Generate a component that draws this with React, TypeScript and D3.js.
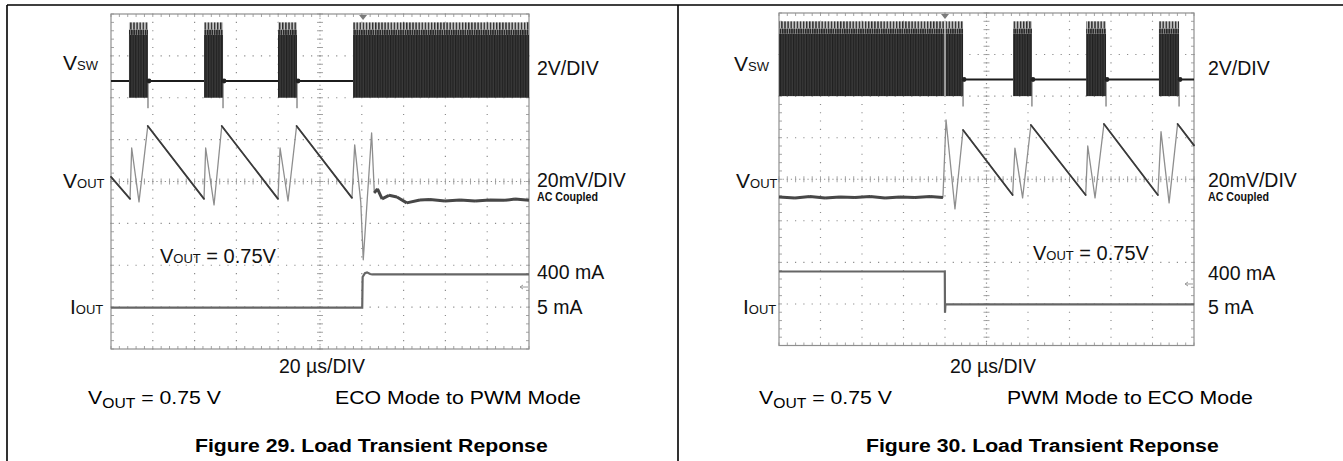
import React from 'react';
import * as d3 from 'd3';

// ---------- DATA (time in µs, 20 µs/DIV; VSW in V; VOUT in mV AC; IOUT in mA) ----------
const TIME_RANGE = [0, 200];

// Figure 29 – ECO Mode to PWM Mode
const vswBurstsEcoToPwm: [number, number][] = [[8.6, 17.7], [44.5, 53.6], [79.9, 89.0], [115.8, 200]];
const voutTimeEcoToPwm = [0, 9.1, 9.9, 13.4, 17.6, 44.5, 45.3, 49.3, 53.0, 79.9, 80.9, 84.7, 88.8, 115.3, 116.6, 119.5, 120.7, 124.7, 126.0, 127.5, 129.7, 133.0, 136.8, 141.5, 147.8, 152.6, 159.8, 167.0, 174.2, 181.3, 188.5, 193.3, 200];
const voutMvEcoToPwm = [2.2, -8.3, 16.0, -9.7, 26.5, -8.3, 16.0, -11.2, 26.5, -8.3, 16.0, -9.3, 26.5, -7.8, 17.5, -9.7, -37.4, 23.2, -5.4, -3.5, -8.3, -6.6, -7.4, -10.2, -8.8, -8.6, -9.3, -8.8, -9.3, -8.8, -9.0, -8.4, -9.0];
const ioutTimeEcoToPwm = [0, 120.2, 120.4, 121.5, 122.5, 124.0, 125.0, 200];
const ioutMaEcoToPwm = [5, 5, 370, 415, 425, 405, 400, 400];
const triggerEcoToPwm = 120.6;
const settledEcoToPwm: [number, number] = [126, 200];

// Figure 30 – PWM Mode to ECO Mode
const vswBurstsPwmToEco: [number, number][] = [[0, 88.7], [112.8, 121.9], [148.0, 157.6], [183.1, 192.8]];
const voutTimePwmToEco = [0, 7.7, 14.9, 22.2, 29.4, 36.6, 43.9, 51.1, 58.3, 65.5, 72.8, 79.0, 80.5, 84.8, 88.7, 112.6, 113.7, 117.4, 121.4, 147.8, 148.8, 152.3, 156.6, 182.6, 184.1, 188.0, 192.1, 200];
const voutMvPwmToEco = [-8.5, -9.0, -8.3, -9.0, -8.5, -8.8, -8.3, -9.0, -8.5, -8.8, -8.3, -8.8, 28.5, -14.3, 23.7, -7.6, 15.0, -9.0, 26.1, -7.6, 16.0, -9.0, 26.6, -7.6, 22.9, -11.4, 26.6, 16.3];
const ioutTimePwmToEco = [0, 79.9, 80.0, 80.2, 200];
const ioutMaPwmToEco = [400, 400, -95, 5, 5];
const triggerPwmToEco = 80;
const settledPwmToEco: [number, number] = [0, 79.2];

// VSW levels (V)
const VSW_IDLE = 0.8;
const VSW_HIGH = 3.6;
const VSW_JAG = 3.0;
const VSW_SPIKE = -0.5;
// channel offsets (divisions from bottom) and scales per division
const VSW_GND_DIV = 6.0, VSW_PER_DIV = 2;
const VOUT_CTR_DIV = 4.0, VOUT_PER_DIV = 20;
const IOUT_GND_DIV = 0.98, IOUT_PER_DIV = 500;
const REF_MARK_DIV = 1.48;

// Text
const scaleLabels = { vsw: '2V/DIV', vout: '20mV/DIV', ac: 'AC Coupled', hi: '400 mA', lo: '5 mA', time: '20 µs/DIV' };
const captions = [
  { mode: 'ECO Mode to PWM Mode', title: 'Figure 29. Load Transient Reponse' },
  { mode: 'PWM Mode to ECO Mode', title: 'Figure 30. Load Transient Reponse' },
];

const FONT = "'Liberation Sans', Arial, Helvetica, sans-serif";

type Frame = { x0: number; x1: number; y0: number; y1: number };

function Panel(props: {
  id: string; f: Frame; bursts: [number, number][]; vt: number[]; vv: number[];
  it: number[]; iv: number[]; trig: number; settled: [number, number]; trigGap: boolean;
  lab: any; cap: { mode: string; title: string };
}) {
  const { id, f, bursts, vt, vv, it, iv, trig, settled, trigGap, lab, cap } = props;
  const x = d3.scaleLinear().domain(TIME_RANGE).range([f.x0, f.x1]);
  const xd = d3.scaleLinear().domain([0, 10]).range([f.x0, f.x1]);
  const yd = d3.scaleLinear().domain([0, 8]).range([f.y1, f.y0]);
  const yVsw = (v: number) => yd(VSW_GND_DIV + v / VSW_PER_DIV);
  const yVout = (v: number) => yd(VOUT_CTR_DIV + v / VOUT_PER_DIV);
  const yIout = (v: number) => yd(IOUT_GND_DIV + v / IOUT_PER_DIV);

  // grid
  const minorX = d3.range(0, 10.0001, 0.2);
  const minorY = d3.range(0, 8.0001, 0.2);
  let dots = '';
  for (let k = 1; k < 10; k++) {
    if (k === 5) continue;
    minorY.forEach((m) => { dots += `M${xd(k) - 0.6},${yd(m)}h1.2`; });
  }
  for (let k = 1; k < 8; k++) {
    if (k === 4) continue;
    minorX.forEach((m) => { dots += `M${xd(m) - 0.6},${yd(k)}h1.2`; });
  }
  let center = '';
  d3.range(0, 8.0001, 0.1).forEach((m) => { center += `M${xd(5) - 0.6},${yd(m)}h1.2`; });
  d3.range(0, 10.0001, 0.1).forEach((m) => { center += `M${xd(m) - 0.6},${yd(4)}h1.2`; });
  let ticks = '';
  minorY.forEach((m) => { ticks += `M${xd(5) - 3},${yd(m)}h6`; ticks += `M${f.x0},${yd(m)}h3M${f.x1},${yd(m)}h-3`; });
  minorX.forEach((m) => { ticks += `M${xd(m)},${yd(4) - 3}v6`; ticks += `M${xd(m)},${f.y0}v3M${xd(m)},${f.y1}v-3`; });

  // VOUT
  const pts = vt.map((t, i) => [x(t), yVout(vv[i])] as [number, number]);
  const line = d3.line();
  let dark = '';
  let thick = '';
  for (let i = 0; i < pts.length - 1; i++) {
    const [a, b] = [pts[i], pts[i + 1]];
    const slope = Math.abs(b[1] - a[1]) / Math.max(0.01, Math.abs(b[0] - a[0]));
    const inSettled = vt[i] >= settled[0] && vt[i + 1] <= settled[1];
    if (inSettled) thick += `M${a[0]},${a[1]}L${b[0]},${b[1]}`;
    else if (slope < 4) dark += `M${a[0]},${a[1]}L${b[0]},${b[1]}`;
  }
  const ipts = it.map((t, i) => [x(t), yIout(iv[i])] as [number, number]);

  const patA = `${id}-a`, patB = `${id}-b`, patC = `${id}-c`;
  return (
    <g>
      <defs>
        <pattern id={patA} width={3.1} height={40} patternUnits="userSpaceOnUse">
          <rect width={3.1} height={40} fill="#c4c4c4" />
          <rect width={1.4} height={40} fill="#2e2e2e" />
        </pattern>
        <pattern id={patB} width={2.3} height={40} patternUnits="userSpaceOnUse">
          <rect width={2.3} height={40} fill="#8a8a8a" />
          <rect width={1.5} height={40} fill="#262626" />
        </pattern>
        <pattern id={patC} width={2.6} height={40} patternUnits="userSpaceOnUse">
          <rect width={2.6} height={40} fill="#3a3a3a" />
          <rect width={1.2} height={40} fill="#202020" />
        </pattern>
      </defs>
      {/* frame & grid */}
      <path d={dots} stroke="#8c8c8c" strokeWidth={1.1} fill="none" />
      <path d={center} stroke="#8c8c8c" strokeWidth={1.1} fill="none" />
      <path d={ticks} stroke="#9a9a9a" strokeWidth={0.9} fill="none" />
      <rect x={f.x0} y={f.y0} width={f.x1 - f.x0} height={f.y1 - f.y0} fill="none" stroke="#8f8f8f" strokeWidth={1.2} />

      {/* VSW */}
      <line x1={x(TIME_RANGE[0])} x2={x(TIME_RANGE[1])} y1={yVsw(VSW_IDLE)} y2={yVsw(VSW_IDLE)} stroke="#1c1c1c" strokeWidth={2} />
      {bursts.map(([s, e], i) => (
        <g key={i}>
          <rect x={x(s)} y={yVsw(VSW_HIGH)} width={x(e) - x(s)} height={yVsw(3.25) - yVsw(VSW_HIGH)} fill={`url(#${patA})`} />
          <rect x={x(s)} y={yVsw(3.25)} width={x(e) - x(s)} height={yVsw(VSW_JAG) - yVsw(3.25)} fill={`url(#${patB})`} />
          <rect x={x(s)} y={yVsw(VSW_JAG)} width={x(e) - x(s)} height={yVsw(0) - yVsw(VSW_JAG)} fill={`url(#${patC})`} />
          {e < TIME_RANGE[1] && (
            <g>
              <line x1={x(e)} x2={x(e)} y1={yVsw(VSW_IDLE)} y2={yVsw(VSW_SPIKE)} stroke="#555" strokeWidth={1} />
              <circle cx={x(e) + 1} cy={yVsw(VSW_IDLE)} r={2.4} fill="#222" />
            </g>
          )}
        </g>
      ))}
      {trigGap && <line x1={x(trig)} x2={x(trig)} y1={yVsw(VSW_HIGH)} y2={yVsw(0)} stroke="#e6e6e6" strokeWidth={1.2} />}
      <path d={`M${x(trig) - 4},${f.y0 + 1}L${x(trig) + 4},${f.y0 + 1}L${x(trig)},${f.y0 + 6}Z`} fill="#7a7a7a" />

      {/* VOUT */}
      <path d={line(pts) || ''} fill="none" stroke="#8e8e8e" strokeWidth={1.3} strokeLinejoin="round" />
      <path d={dark} fill="none" stroke="#3a3a3a" strokeWidth={1.8} strokeLinecap="round" />
      <path d={thick} fill="none" stroke="#474747" strokeWidth={3} strokeLinejoin="round" />

      {/* IOUT */}
      <path d={line(ipts) || ''} fill="none" stroke="#666" strokeWidth={2.2} />
      <path d={`M${f.x1 - 9},${yd(REF_MARK_DIV)}h8M${f.x1 - 9},${yd(REF_MARK_DIV)}l3,-2M${f.x1 - 9},${yd(REF_MARK_DIV)}l3,2`} stroke="#999" strokeWidth={1} fill="none" />

      {/* scope labels */}
      <g fontFamily={FONT} fill="#111">
        <text x={lab.vsw[0]} y={lab.vsw[1]} fontSize={21}>V<tspan fontSize={13}>SW</tspan></text>
        <text x={lab.vout[0]} y={lab.vout[1]} fontSize={21}>V<tspan fontSize={13}>OUT</tspan></text>
        <text x={lab.iout[0]} y={lab.iout[1]} fontSize={21}>I<tspan fontSize={13}>OUT</tspan></text>
        <text x={lab.note[0]} y={lab.note[1]} fontSize={20}>V<tspan fontSize={13}>OUT</tspan> = 0.75V</text>
        <text x={lab.right} y={75} fontSize={19.5}>{scaleLabels.vsw}</text>
        <text x={lab.right} y={187} fontSize={19.5}>{scaleLabels.vout}</text>
        <text x={lab.right} y={200.5} fontSize={12} fontWeight="bold" textLength={61} lengthAdjust="spacingAndGlyphs">{scaleLabels.ac}</text>
        <text x={lab.right} y={lab.hiY} fontSize={19.5}>{scaleLabels.hi}</text>
        <text x={lab.right} y={314} fontSize={19.5}>{scaleLabels.lo}</text>
        <text x={lab.time} y={373} fontSize={19.5}>{scaleLabels.time}</text>
      </g>
      {/* captions */}
      <g fontFamily={FONT} fill="#000">
        <g transform={`translate(${lab.capV},404) scale(1.12,1)`}>
          <text fontSize={19}>V<tspan fontSize={14} dy={4}>OUT</tspan><tspan dy={-4}> = 0.75 V</tspan></text>
        </g>
        <g transform={`translate(${lab.capMode},404) scale(1.12,1)`}>
          <text fontSize={19}>{cap.mode}</text>
        </g>
        <g transform={`translate(${lab.capTitle},452) scale(1.118,1)`}>
          <text fontSize={19} fontWeight="bold">{cap.title}</text>
        </g>
      </g>
    </g>
  );
}

export default function App() {
  return (
    <svg width={1343} height={461} style={{ position: 'absolute', left: 0, top: 0, background: '#fff' }}>
      <rect width={1343} height={461} fill="#fff" />
      <path d="M7,5H1343M7,5V461M678,5V461" stroke="#000" strokeWidth={1.6} fill="none" />
      <Panel id="p29" f={{ x0: 111, x1: 529, y0: 14, y1: 349 }} bursts={vswBurstsEcoToPwm}
        vt={voutTimeEcoToPwm} vv={voutMvEcoToPwm} it={ioutTimeEcoToPwm} iv={ioutMaEcoToPwm}
        trig={triggerEcoToPwm} settled={settledEcoToPwm} trigGap={false}
        lab={{ vsw: [63, 70], vout: [63, 188], iout: [70, 314], note: [160, 262.5], right: 537, hiY: 279, time: 279, capV: 88, capMode: 335, capTitle: 195 }}
        cap={captions[0]} />
      <Panel id="p30" f={{ x0: 779, x1: 1194, y0: 13, y1: 345.5 }} bursts={vswBurstsPwmToEco}
        vt={voutTimePwmToEco} vv={voutMvPwmToEco} it={ioutTimePwmToEco} iv={ioutMaPwmToEco}
        trig={triggerPwmToEco} settled={settledPwmToEco} trigGap={true}
        lab={{ vsw: [734, 71], vout: [736, 188], iout: [743, 314], note: [1033, 260], right: 1208, hiY: 280, time: 950, capV: 759, capMode: 1007, capTitle: 866 }}
        cap={captions[1]} />
    </svg>
  );
}
